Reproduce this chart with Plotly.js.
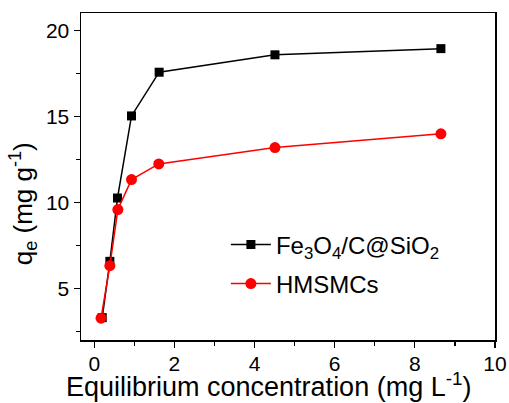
<!DOCTYPE html>
<html><head><meta charset="utf-8">
<script src="https://cdn.plot.ly/plotly-3.0.1.min.js"></script>
<style>html,body{margin:0;padding:0;background:#fff}#chart{width:509px;height:403px}</style>
</head><body><div id="chart"></div>
<script>
const xFe = [0.2, 0.39, 0.58, 0.93, 1.62, 4.51, 8.65];
const yFe = [3.3, 6.57, 10.25, 15.02, 17.56, 18.57, 18.93];
const xHM = [0.17, 0.39, 0.59, 0.93, 1.61, 4.51, 8.65];
const yHM = [3.27, 6.32, 9.58, 11.32, 12.23, 13.18, 13.98];
const nameFe = 'Fe<sub>3</sub>O<sub>4</sub>/C@SiO<sub>2</sub>';
const nameHM = 'HMSMCs';
const xTitle = 'Equilibrium concentration (mg L<sup>-1</sup>)';
const yTitle = 'q<sub>e</sub> (mg g<sup>-1</sup>)';

const font = 'Liberation Sans, Arial, sans-serif';
const data = [
  {x: xFe, y: yFe, name: nameFe, legendgroup: 'a', type: 'scatter', mode: 'lines+markers',
   line: {color: '#000', width: 1.5}, marker: {symbol: 'square', size: 9, color: '#000'}},
  {x: xHM, y: yHM, name: nameHM, legendgroup: 'b', type: 'scatter', mode: 'lines+markers',
   line: {color: '#ff0000', width: 1.5}, marker: {symbol: 'circle', size: 11, color: '#ff0000'}}
];
const axisCommon = {
  showgrid: false, zeroline: false, showline: true, linecolor: '#000', linewidth: 1.5,
  mirror: true, ticks: 'outside', ticklen: 6, tickwidth: 1.2, tickcolor: '#000',
  tickfont: {family: font, size: 21, color: '#000'}
};
const layout = {
  width: 509, height: 403,
  margin: {l: 81, r: 14, t: 13, b: 63},
  paper_bgcolor: '#fff', plot_bgcolor: '#fff',
  font: {family: font, color: '#000'},
  showlegend: true,
  legend: {x: 0.35, y: 0.36, xanchor: 'left', yanchor: 'top', bgcolor: 'rgba(0,0,0,0)',
           font: {family: font, size: 24, color: '#000'}, itemwidth: 40,
           traceorder: 'grouped', tracegroupgap: 5},
  xaxis: Object.assign({}, axisCommon, {
    range: [-0.33, 10], tickvals: [0, 2, 4, 6, 8, 10], ticklabelstandoff: -2,
    minor: {tickvals: [1, 3, 5, 7, 9], ticks: 'outside', ticklen: 4, tickcolor: '#000', tickwidth: 1.2}
  }),
  yaxis: Object.assign({}, axisCommon, {
    range: [2, 21], tickvals: [5, 10, 15, 20],
    minor: {tickvals: [2.5, 7.5, 12.5, 17.5], ticks: 'outside', ticklen: 4, tickcolor: '#000', tickwidth: 1.2}
  }),
  annotations: [
    {text: xTitle, xref: 'paper', yref: 'paper', x: 0.452, y: -0.137, xanchor: 'center', yanchor: 'middle',
     showarrow: false, font: {family: font, size: 27, color: '#000'}},
    {text: yTitle, xref: 'paper', yref: 'paper', x: -0.14, y: 0.415, xanchor: 'center', yanchor: 'middle',
     textangle: -90, showarrow: false, font: {family: font, size: 26, color: '#000'}}
  ]
};
Plotly.newPlot('chart', data, layout, {displayModeBar: false, staticPlot: true});
</script></body></html>
